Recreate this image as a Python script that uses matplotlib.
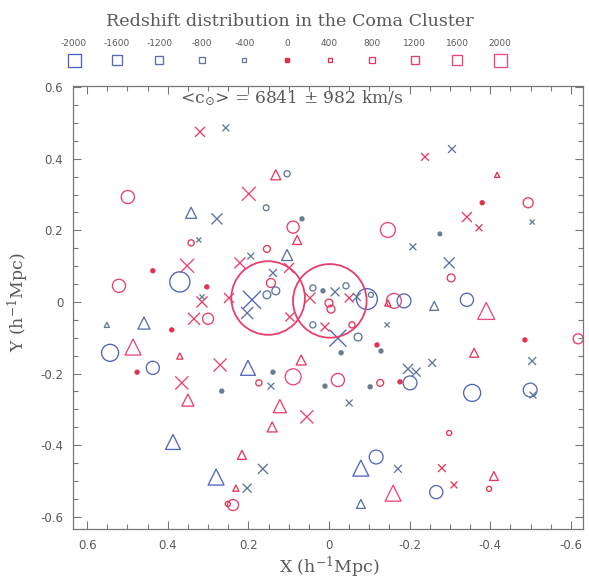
import numpy as np
import matplotlib
matplotlib.use("Agg")
import matplotlib.pyplot as plt
from matplotlib.ticker import MultipleLocator, FuncFormatter
from matplotlib.colors import to_rgb

# galaxies, drawn as circles / triangles / crosses : X, Y (h^-1 Mpc) and cz - <cz> (km/s)
circ_x = [0.104, 0.499, 0.156, 0.089, 0.342, 0.154, 0.437, 0.370, 0.521, 0.303,
          0.144, 0.154, 0.132, 0.300, 0.543, 0.390, 0.139, 0.089, 0.437, 0.476,
          0.174, 0.266, 0.238, 0.251, 0.040, -0.057, -0.072, -0.030, -0.119, -0.129,
          0.010, -0.022, -0.102, -0.127, -0.176, -0.201, -0.355, -0.499, -0.486, -0.618,
          -0.298, -0.117, -0.266, -0.397, -0.380, -0.494, -0.146, -0.275, -0.303, 0.067,
          0.040, 0.015, -0.042, 0.000, -0.005, -0.094, -0.104, -0.161, -0.186, -0.342]
circ_y = [0.358, 0.293, 0.263, 0.209, 0.165, 0.148, 0.087, 0.056, 0.045, 0.042,
          0.053, 0.020, 0.031, -0.047, -0.142, -0.078, -0.196, -0.209, -0.184, -0.196,
          -0.226, -0.249, -0.567, -0.564, -0.064, -0.064, -0.098, -0.142, -0.120, -0.137,
          -0.235, -0.218, -0.237, -0.226, -0.223, -0.226, -0.254, -0.246, -0.106, -0.103,
          -0.366, -0.433, -0.531, -0.522, 0.277, 0.277, 0.201, 0.190, 0.067, 0.232,
          0.039, 0.031, 0.045, -0.003, -0.020, 0.008, 0.020, 0.003, 0.003, 0.006]
circ_dv = [-450, 1450, -400, 1300, 450, 550, 150, -2450, 1450, 150,
           850, -700, -700, 1150, -2000, 150, -150, 1850, -1450, 150,
           450, -150, 1150, 300, -450, 450, -700, -150, 150, -150,
           -150, 1450, -150, 550, 150, -1550, -2000, -1550, 150, 1000,
           300, -1550, -1450, 300, 150, 1000, 1700, -100, 700, -150,
           -450, -150, -450, 700, 700, -2550, -300, 1700, -1550, -1450]

tri_x = [0.132, 0.342, 0.104, 0.079, 0.551, 0.459, 0.486, 0.370, 0.201, 0.350,
         0.122, 0.141, 0.387, 0.216, 0.280, 0.231, 0.069, -0.360, -0.079, -0.409,
         -0.159, -0.079, -0.417, -0.146, -0.261, -0.390]
tri_y = [0.355, 0.249, 0.131, 0.173, -0.064, -0.059, -0.126, -0.151, -0.184, -0.274,
         -0.291, -0.349, -0.391, -0.427, -0.489, -0.520, -0.162, -0.142, -0.464, -0.486,
         -0.534, -0.564, 0.355, -0.003, -0.011, -0.025]
tri_dv = [1000, -1150, -1150, 850, -300, -1300, 1850, 450, -1700, 1300,
          1450, 1000, -1700, 850, -1850, 450, 1000, 850, -1850, 850,
          1850, -850, 300, 450, -850, 2000]

cross_x = [0.320, 0.256, 0.199, 0.278, 0.323, 0.194, 0.352, 0.221, 0.139, 0.315,
           0.315, 0.248, 0.191, 0.203, 0.335, 0.097, 0.099, 0.270, 0.365, 0.144,
           0.164, 0.203, 0.010, -0.144, -0.022, -0.196, -0.216, -0.256, -0.050, 0.055,
           -0.506, -0.504, -0.171, -0.280, -0.310, -0.238, -0.305, -0.342, -0.372, -0.504,
           -0.208, -0.298, -0.015, 0.047, -0.050, -0.069]
cross_y = [0.475, 0.486, 0.302, 0.232, 0.173, 0.128, 0.101, 0.109, 0.081, 0.000,
           0.014, 0.011, 0.006, -0.031, -0.047, -0.042, 0.095, -0.176, -0.226, -0.235,
           -0.466, -0.520, -0.070, -0.064, -0.101, -0.187, -0.196, -0.170, -0.282, -0.321,
           -0.260, -0.165, -0.466, -0.464, -0.511, 0.405, 0.427, 0.237, 0.207, 0.223,
           0.154, 0.109, 0.028, 0.011, 0.011, 0.014]
cross_dv = [1000, -550, 1550, -1150, -300, -550, 1550, 1150, -700, 1150,
            -300, 1000, -2150, -1300, 1300, 850, 1000, 1450, 1450, -550,
            -1000, -850, 850, -300, -2000, -1000, -850, -700, -550, 1450,
            -550, -700, -700, 700, 550, 700, -700, 1000, 550, -300,
            -550, -1150, -850, 1150, 850, -700]

# the two dominant galaxies (NGC 4889, NGC 4874)
giant_x = [0.151, -0.002]
giant_y = [0.011, 0.003]

# velocity key on top
key_dv = [-2000, -1600, -1200, -800, -400, 0, 400, 800, 1200, 1600, 2000]

title = "Redshift distribution in the Coma Cluster"
mean_cz = 6841
sigma_cz = 982

gray = '#5a5a5a'
neg_lo, neg_hi = np.array(to_rgb('#6a808c')), np.array(to_rgb('#5062c0'))
pos_lo, pos_hi = np.array(to_rgb('#e0304c')), np.array(to_rgb('#ea4a7c'))


def vcolor(dv):
    t = min(abs(dv) / 2000.0, 1.0)
    if dv < 0:
        return tuple(neg_lo + (neg_hi - neg_lo) * t)
    return tuple(pos_lo + (pos_hi - pos_lo) * t)


def msize(dv):
    # marker size in points
    return (3 + abs(dv) / 100 * 0.7) * 0.72


plt.rcParams['axes.unicode_minus'] = False
plt.rcParams['mathtext.fontset'] = 'dejavuserif'

fig = plt.figure(figsize=(5.89, 5.80), dpi=100)
ax = fig.add_axes([73 / 589, 1 - 529 / 580, 510 / 589, 443 / 580])

for xs, ys, dvs, mk in [(circ_x, circ_y, circ_dv, 'o'),
                        (tri_x, tri_y, tri_dv, '^'),
                        (cross_x, cross_y, cross_dv, 'x')]:
    cols = [vcolor(v) for v in dvs]
    sizes = np.array([msize(v) for v in dvs]) ** 2
    faces = [c if abs(v) < 200 else 'none' for c, v in zip(cols, dvs)]
    if mk == 'x':
        ax.scatter(xs, ys, s=sizes, marker=mk, c=cols, linewidths=0.95)
    else:
        ax.scatter(xs, ys, s=sizes, marker=mk, facecolors=faces,
                   edgecolors=cols, linewidths=0.95)

ax.scatter(giant_x, giant_y, s=53 ** 2, marker='o', facecolors='none',
           edgecolors='#e8406e', linewidths=1.3)

ax.set_xlim(0.635, -0.63)
ax.set_ylim(-0.634, 0.603)

fmt = FuncFormatter(lambda v, p: '0' if abs(v) < 1e-9 else '%.1f' % v)
for axis in (ax.xaxis, ax.yaxis):
    axis.set_major_locator(MultipleLocator(0.2))
    axis.set_minor_locator(MultipleLocator(0.05))
    axis.set_major_formatter(fmt)
ax.tick_params(which='both', direction='in', top=True, right=True,
               color='#777777', labelcolor=gray, labelsize=8.5, width=0.8)
ax.tick_params(which='major', length=6, pad=7)
ax.tick_params(which='minor', length=3.5)
for s in ax.spines.values():
    s.set_color('#777777')
    s.set_linewidth(0.9)

ax.text(0.429, 0.973, '<c$_{\\odot}$> = %d ± %d km/s' % (mean_cz, sigma_cz),
        transform=ax.transAxes, ha='center', va='center',
        family='DejaVu Serif', fontsize=12.3, color=gray)

fig.text(329 / 589, 1 - 567 / 580, 'X (h$^{-1}$Mpc)', ha='center', va='center',
         family='DejaVu Serif', fontsize=12.5, color=gray)
fig.text(18 / 589, 1 - 302 / 580, 'Y (h$^{-1}$Mpc)', ha='center', va='center',
         rotation=90, family='DejaVu Serif', fontsize=12.5, color=gray)

fig.text(290 / 589, 1 - 22 / 580, title, ha='center', va='center',
         family='DejaVu Serif', fontsize=12.6, color=gray)

# key : squares scaled with velocity
lax = fig.add_axes([52.7 / 589, 1 - 72 / 580, 468.6 / 589, 40 / 580])
lax.set_xlim(-2200, 2200)
lax.set_ylim(0, 1)
lax.axis('off')
for v in key_dv:
    c = vcolor(v)
    if v == 0:
        lax.plot(v, 0.3, marker='s', ms=2.6, mfc=c, mec=c, ls='')
    else:
        lax.plot(v, 0.3, marker='s', ms=(2 + abs(v) / 2000 * 11) * 0.72,
                 mfc='none', mec=c, mew=0.95, ls='')
    lax.text(v, 0.7, str(v), ha='center', va='center', fontsize=6.5, color=gray)

plt.savefig("out.png", dpi=100)
